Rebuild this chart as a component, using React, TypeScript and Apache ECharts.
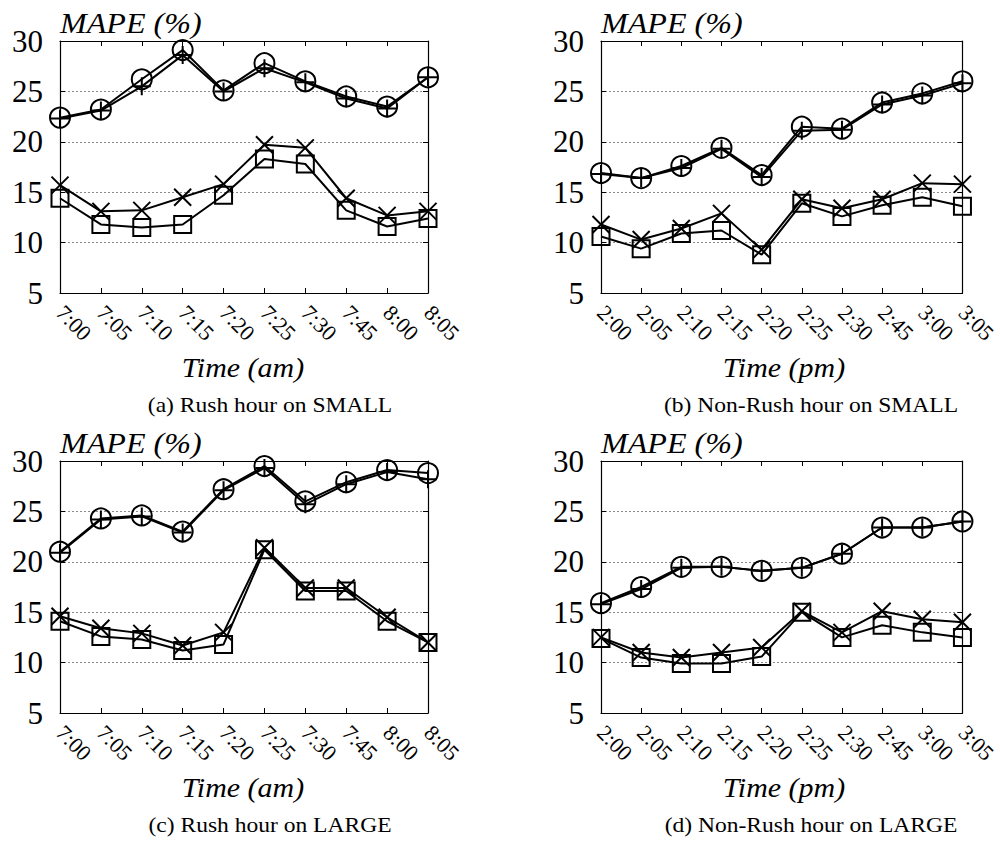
import React, { useEffect, useRef } from "react";
import * as echarts from "echarts";

// Time slots on the x axis
const timesAm = ["7:00", "7:05", "7:10", "7:15", "7:20", "7:25", "7:30", "7:45", "8:00", "8:05"];
const timesPm = ["2:00", "2:05", "2:10", "2:15", "2:20", "2:25", "2:30", "2:45", "3:00", "3:05"];

// y axis ticks (MAPE %)
const yTicks = [5, 10, 15, 20, 25, 30];

// (a) Rush hour on SMALL
const smallRushPlus = [22.3, 23.1, 25.5, 28.6, 25.0, 27.3, 25.9, 24.3, 23.3, 26.4];
const smallRushCircle = [22.4, 23.2, 26.2, 29.1, 25.1, 27.8, 26.0, 24.5, 23.5, 26.4];
const smallRushCross = [15.7, 13.1, 13.2, 14.5, 15.8, 19.7, 19.4, 14.4, 12.7, 13.1];
const smallRushSquare = [14.4, 11.8, 11.5, 11.8, 14.7, 18.3, 17.8, 13.2, 11.6, 12.4];

// (b) Non-Rush hour on SMALL
const smallNonPlus = [16.8, 16.4, 17.4, 19.3, 16.5, 21.1, 21.2, 23.7, 24.6, 25.8];
const smallNonCircle = [16.9, 16.4, 17.6, 19.4, 16.7, 21.5, 21.3, 23.9, 24.8, 26.0];
const smallNonCross = [11.8, 10.3, 11.4, 12.9, 9.3, 14.3, 13.4, 14.3, 15.9, 15.8];
const smallNonSquare = [10.6, 9.4, 10.9, 11.2, 8.8, 13.9, 12.6, 13.7, 14.5, 13.6];

// (c) Rush hour on LARGE
const largeRushPlus = [20.9, 24.2, 24.5, 22.9, 27.1, 29.3, 25.7, 27.7, 28.9, 28.2];
const largeRushCircle = [21.0, 24.3, 24.6, 23.0, 27.2, 29.5, 26.0, 27.9, 29.1, 28.8];
const largeRushCross = [14.6, 13.4, 12.9, 11.7, 13.0, 21.4, 17.4, 17.4, 14.5, 12.0];
const largeRushSquare = [14.1, 12.6, 12.3, 11.2, 11.8, 21.2, 17.1, 17.1, 14.1, 12.0];

// (d) Non-Rush hour on LARGE
const largeNonPlus = [15.8, 17.3, 19.4, 19.5, 19.1, 19.4, 20.8, 23.4, 23.4, 24.0];
const largeNonCircle = [15.9, 17.5, 19.5, 19.5, 19.1, 19.4, 20.8, 23.4, 23.4, 24.0];
const largeNonCross = [12.5, 11.0, 10.5, 11.0, 11.5, 15.1, 13.0, 15.1, 14.3, 14.0];
const largeNonSquare = [12.4, 10.5, 9.9, 9.9, 10.6, 15.0, 12.5, 13.7, 13.0, 12.5];

const panelCaptions = [
  "(a) Rush hour on SMALL",
  "(b) Non-Rush hour on SMALL",
  "(c) Rush hour on LARGE",
  "(d) Non-Rush hour on LARGE",
];
const xAxisNames = ["Time (am)", "Time (pm)", "Time (am)", "Time (pm)"];
const yAxisName = "MAPE (%)";

const SERIF = "Liberation Serif";

const panels = [
  { cats: timesAm, plus: smallRushPlus, circle: smallRushCircle, cross: smallRushCross, square: smallRushSquare },
  { cats: timesPm, plus: smallNonPlus, circle: smallNonCircle, cross: smallNonCross, square: smallNonSquare },
  { cats: timesAm, plus: largeRushPlus, circle: largeRushCircle, cross: largeRushCross, square: largeRushSquare },
  { cats: timesPm, plus: largeNonPlus, circle: largeNonCircle, cross: largeNonCross, square: largeNonSquare },
];

// Plot-area placement of each panel
const gridBoxes = [
  { left: 60, top: 41, width: 368, height: 252 },
  { left: 601, top: 41, width: 368, height: 252 },
  { left: 60, top: 461, width: 368, height: 252 },
  { left: 601, top: 461, width: 368, height: 252 },
];

const PLUS_PATH = "path://M5,0L5,10M0,5L10,5";
const CROSS_PATH = "path://M0,0L10,10M10,0L0,10";

export default function App() {
  const ref = useRef<HTMLDivElement>(null);

  useEffect(() => {
    document.body.style.margin = "0";
    if (!ref.current) return;
    const chart = echarts.init(ref.current, undefined, { renderer: "svg" });

    const grid: any[] = [];
    const xAxis: any[] = [];
    const yAxis: any[] = [];
    const series: any[] = [];
    const graphic: any[] = [];

    panels.forEach((p, i) => {
      const g = gridBoxes[i];
      grid.push({ ...g, containLabel: false });

      // bottom axis with labels, top axis as frame with inward ticks
      xAxis.push({
        type: "category",
        gridIndex: i,
        data: p.cats,
        boundaryGap: false,
        position: "bottom",
        axisLine: { show: true, lineStyle: { color: "#000", width: 1.2 } },
        axisTick: { show: true, inside: true, length: 5, lineStyle: { color: "#000", width: 1 } },
        axisLabel: {
          rotate: -45,
          margin: 16,
          fontSize: 22,
          fontFamily: SERIF,
          color: "#000",
          interval: 0,
        },
        splitLine: { show: false },
      });
      xAxis.push({
        type: "category",
        gridIndex: i,
        data: p.cats,
        boundaryGap: false,
        position: "top",
        axisLine: { show: true, lineStyle: { color: "#000", width: 1.2 } },
        axisTick: { show: true, inside: true, length: 5, lineStyle: { color: "#000", width: 1 } },
        axisLabel: { show: false },
        splitLine: { show: false },
      });
      yAxis.push({
        type: "value",
        gridIndex: i,
        min: 5,
        max: 30,
        interval: 5,
        position: "left",
        axisLine: { show: true, lineStyle: { color: "#000", width: 1.2 } },
        axisTick: { show: true, inside: true, length: 5, lineStyle: { color: "#000", width: 1 } },
        axisLabel: {
          margin: 17,
          fontSize: 31,
          fontFamily: SERIF,
          color: "#000",
          customValues: yTicks,
        },
        splitLine: {
          show: true,
          lineStyle: { color: "#8a8a8a", type: [2, 2], width: 1 },
        },
      });
      yAxis.push({
        type: "value",
        gridIndex: i,
        min: 5,
        max: 30,
        interval: 5,
        position: "right",
        axisLine: { show: true, lineStyle: { color: "#000", width: 1.2 } },
        axisTick: { show: true, inside: true, length: 5, lineStyle: { color: "#000", width: 1 } },
        axisLabel: { show: false },
        splitLine: { show: false },
      });

      const xIdx = i * 2;
      const yIdx = i * 2;
      const common = {
        type: "line",
        xAxisIndex: xIdx,
        yAxisIndex: yIdx,
        showAllSymbol: true,
        lineStyle: { color: "#000", width: 2 },
        emphasis: { disabled: true },
        silent: true,
      };
      const hollow = { color: "rgba(0,0,0,0)", borderColor: "#000", borderWidth: 2 };
      series.push({ ...common, name: "plus-" + i, data: p.plus, symbol: PLUS_PATH, symbolSize: 18, itemStyle: hollow });
      series.push({ ...common, name: "circle-" + i, data: p.circle, symbol: "circle", symbolSize: 20, itemStyle: hollow });
      series.push({ ...common, name: "cross-" + i, data: p.cross, symbol: CROSS_PATH, symbolSize: 17, itemStyle: hollow });
      series.push({ ...common, name: "square-" + i, data: p.square, symbol: "rect", symbolSize: 17, itemStyle: hollow });

      const cx = g.left + g.width / 2;
      const bottom = g.top + g.height;
      // y axis title above the frame
      graphic.push({
        type: "text",
        x: g.left,
        y: g.top - 18,
        scaleX: 1.07,
        style: {
          text: yAxisName,
          x: 0,
          y: 0,
          fontSize: 30,
          fontStyle: "italic",
          fontFamily: SERIF,
          fill: "#000",
          textAlign: "left",
          textVerticalAlign: "middle",
        },
      });
      // x axis title
      graphic.push({
        type: "text",
        x: cx - 1,
        y: bottom + 74,
        scaleX: 1.07,
        style: {
          text: xAxisNames[i],
          x: 0,
          y: 0,
          fontSize: 28,
          fontStyle: "italic",
          fontFamily: SERIF,
          fill: "#000",
          textAlign: "center",
          textVerticalAlign: "middle",
        },
      });
      // panel caption
      graphic.push({
        type: "text",
        x: cx + 26,
        y: bottom + 112,
        scaleX: 1.07,
        style: {
          text: panelCaptions[i],
          x: 0,
          y: 0,
          fontSize: 22,
          fontFamily: SERIF,
          fill: "#000",
          textAlign: "center",
          textVerticalAlign: "middle",
        },
      });
    });

    chart.setOption({
      animation: false,
      backgroundColor: "#fff",
      grid,
      xAxis,
      yAxis,
      series,
      graphic,
    });

    return () => chart.dispose();
  }, []);

  return <div ref={ref} style={{ width: 1000, height: 846 }} />;
}
